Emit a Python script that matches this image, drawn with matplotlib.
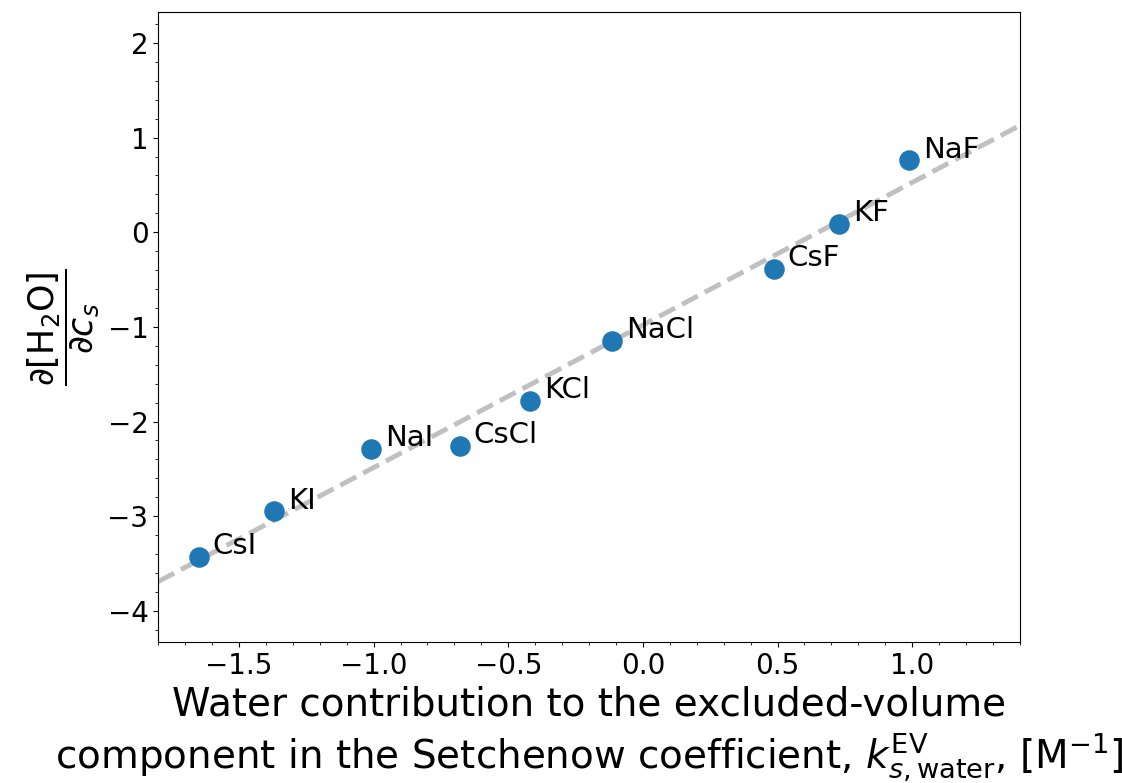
import numpy as np
import matplotlib.pyplot as plt
from matplotlib.ticker import MultipleLocator

# salts and values
salts = ['CsI', 'KI', 'NaI', 'CsCl', 'KCl', 'NaCl', 'CsF', 'KF', 'NaF']
k_ev = [-1.65, -1.37, -1.01, -0.68, -0.42, -0.115, 0.485, 0.73, 0.99]
dwater = [-3.43, -2.95, -2.29, -2.26, -1.78, -1.15, -0.39, 0.09, 0.76]

fig = plt.figure(figsize=(11.22, 7.83), dpi=100)
ax = fig.add_axes([0.141, 0.180, 0.768, 0.805])

# linear fit through the points, drawn across the whole axis
slope, intercept = np.polyfit(k_ev, dwater, 1)
xfit = np.array([-1.8, 1.4])
ax.plot(xfit, slope * xfit + intercept, '--', color='#c0c0c0', lw=3.5, zorder=1)

ax.scatter(k_ev, dwater, s=190, color='#1f77b4', zorder=2)
for name, x, y in zip(salts, k_ev, dwater):
    ax.annotate(name, (x, y), xytext=(10, 2), textcoords='offset points',
                fontsize=21, ha='left', va='baseline')

ax.set_xlim(-1.8, 1.4)
ax.set_ylim(-4.33, 2.33)
ax.xaxis.set_major_locator(MultipleLocator(0.5))
ax.xaxis.set_minor_locator(MultipleLocator(0.1))
ax.yaxis.set_major_locator(MultipleLocator(1))
ax.yaxis.set_minor_locator(MultipleLocator(0.2))
ax.tick_params(labelsize=20)

ax.set_xlabel('Water contribution to the excluded-volume\n'
              'component in the Setchenow coefficient, '
              r'$k_{s,\mathrm{water}}^{\mathrm{EV}}$, [M$^{-1}$]', fontsize=28)
ax.set_ylabel(r'$\dfrac{\partial[\mathrm{H_2O}]}{\partial c_s}$', fontsize=25)

fig.savefig('out.png', dpi=100)
